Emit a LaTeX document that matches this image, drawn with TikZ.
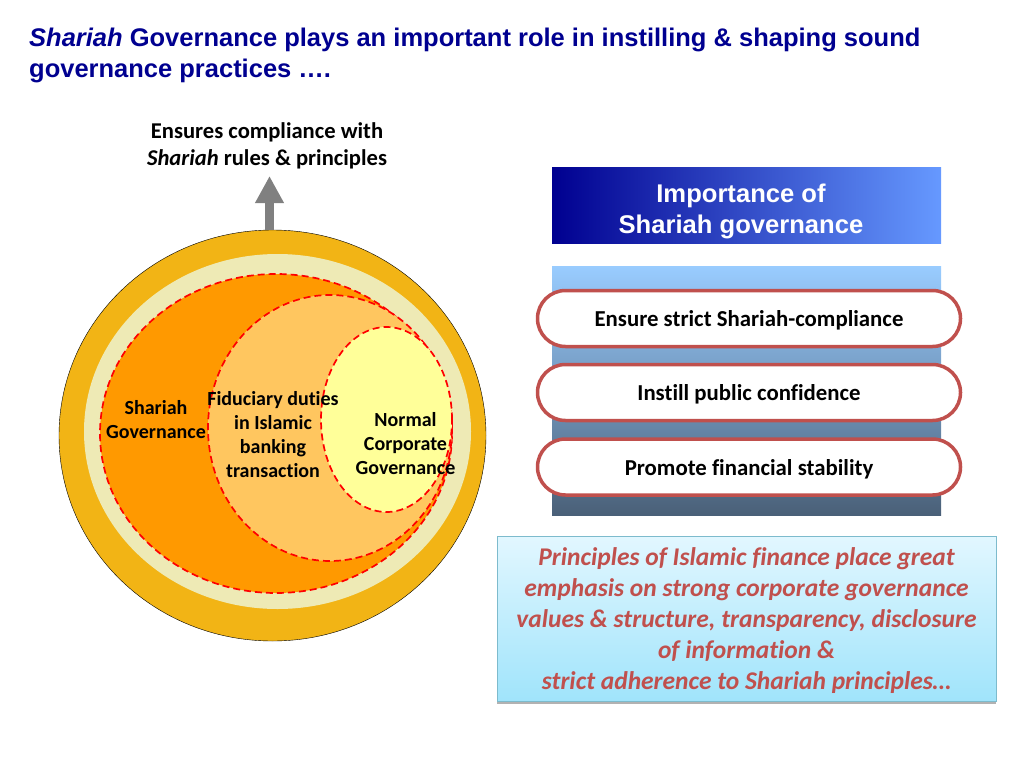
\documentclass[tikz,border=0pt]{standalone}
\usepackage{fontspec}
\setmainfont[Ligatures=NoCommon]{Carlito}
\newfontfamily\arialfont{Liberation Sans}
\usetikzlibrary{shapes.geometric,shapes.misc,shadows,arrows.meta}
\definecolor{titleblue}{HTML}{000090}
\definecolor{headerblue}{HTML}{6699FF}
\definecolor{ringgold}{HTML}{F2B415}
\definecolor{ringpale}{HTML}{EEEAB5}
\definecolor{govorange}{HTML}{FF9900}
\definecolor{dutyorange}{HTML}{FFC65F}
\definecolor{normyellow}{HTML}{FFFF99}
\definecolor{pillred}{HTML}{C0504D}
\definecolor{bandtop}{HTML}{99CCFF}
\definecolor{bandbottom}{HTML}{4A6078}
\definecolor{boxedge}{HTML}{7DBBCD}
\definecolor{boxtop}{HTML}{E2F7FF}
\definecolor{boxbottom}{HTML}{A0E4FB}
\tikzset{
  disc/.style={ellipse,inner sep=0pt,outer sep=0pt},
  dashdisc/.style={disc,draw=red,line width=1.7pt,dash pattern=on 7pt off 4pt},
  circlelabel/.style={font=\fontsize{20}{24}\selectfont\bfseries,align=center},
  pill/.style={rounded rectangle,draw=pillred,line width=3.5pt,fill=white,
    minimum width=423pt,minimum height=56pt,inner sep=0pt,text height=16pt,text depth=0pt,
    font=\fontsize{22.8}{26}\selectfont\bfseries},
}
\begin{document}
\begin{tikzpicture}[x=1pt,y=-1pt]
    \useasboundingbox (0,0) rectangle (1024,768);
    % title
    \node[anchor=north west,inner sep=0pt,align=left,text=titleblue,
      font=\arialfont\fontsize{25.5}{31}\selectfont\bfseries] (title) at (29,27.5)
      {{\itshape Shariah} Governance plays an important role in instilling \& shaping sound\\
       governance practices \dots.};
    % circles
    \node[disc,draw=black,fill=ringgold,minimum width=427pt,minimum height=411pt] (outer) at (272.5,435.5) {};
    \node[disc,fill=ringpale,minimum width=387pt,minimum height=355pt] (pale) at (277.5,431.5) {};
    \node[dashdisc,fill=govorange,minimum width=352pt,minimum height=319pt] (shariah) at (276,433.5) {};
    \node[dashdisc,fill=dutyorange,minimum width=244pt,minimum height=266pt] (duty) at (330,428) {};
    \node[dashdisc,fill=normyellow,minimum width=131pt,minimum height=185pt] (normal) at (386.5,419.5) {};
    \node[circlelabel] (shariahlabel) at (156,420) {Shariah\\Governance};
    \node[circlelabel] (dutylabel) at (273,434.5) {Fiduciary duties\\in Islamic\\banking\\transaction};
    \node[circlelabel] (normallabel) at (405.5,443.5) {Normal\\Corporate\\Governance};
    % arrow
    \coordinate (arrowtip) at (269.5,176);
    \draw[line width=9pt,draw=black!50,-{Triangle[width=27pt,length=27pt]}] (arrowtip |- outer.north) -- (arrowtip);
    \node[align=center,font=\fontsize{22.6}{27}\selectfont\bfseries] (compliance) at (267,146)
      {Ensures compliance with\\{\itshape Shariah} rules \& principles};
    % importance
    \node[minimum width=389pt,minimum height=76pt,inner sep=0pt,left color=titleblue,right color=headerblue] (header) at (746.5,205) {};
    \node[text=white,align=center,font=\arialfont\fontsize{25.6}{31}\selectfont\bfseries] (headertext) at (741,211)
      {Importance of\\Shariah governance};
    \node[minimum width=389pt,minimum height=249pt,inner sep=0pt,
      top color=bandtop,bottom color=bandbottom] (band) at (746.5,390.5) {};
    \node[pill] (strict) at (749,318.5) {Ensure strict Shariah-compliance};
    \node[pill] (public) at (749,392.5) {Instill public confidence};
    \node[pill] (stable) at (749,467) {Promote financial stability};
    % principles
    \node[draw=boxedge,line width=1pt,minimum width=499pt,minimum height=165pt,inner sep=0pt,
      top color=boxtop,bottom color=boxbottom,
      drop shadow={shadow xshift=0pt,shadow yshift=-3pt,opacity=.3,fill=black}] (principles) at (746.5,618.5) {};
    \node[text=pillred,align=center,font=\fontsize{25.5}{31}\selectfont\bfseries\itshape] (principlestext) at (746.5,621)
      {Principles of Islamic finance place great\\
       emphasis on strong corporate governance\\
       values \& structure, transparency, disclosure\\
       of information \&\\
       strict adherence to Shariah principles…};
\end{tikzpicture}
\end{document}
